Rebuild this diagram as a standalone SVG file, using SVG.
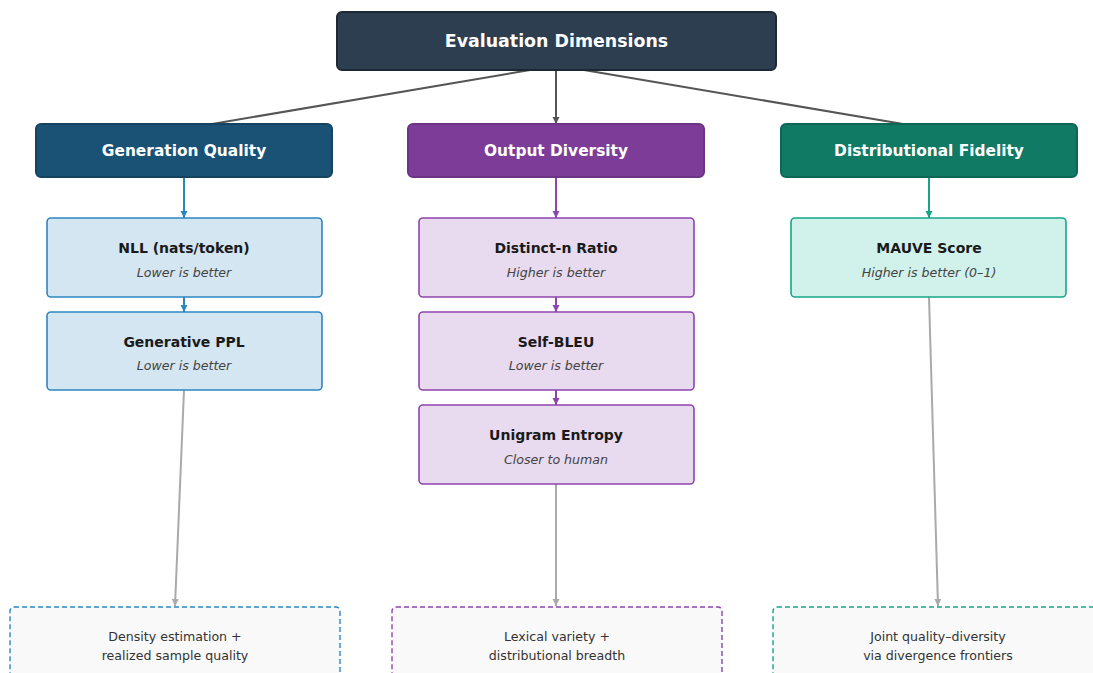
<svg xmlns="http://www.w3.org/2000/svg" width="1093" height="673" viewBox="0 0 1093 673">
<style>
text{font-family:"DejaVu Sans",Verdana,sans-serif;text-anchor:middle}
.hd{font-weight:bold;fill:#fff;font-size:15.4px}
.t{font-weight:bold;fill:#1a1a1a;font-size:14px}
.s{font-style:italic;fill:#444;font-size:12.6px}
.n{fill:#333;font-size:12.6px}
.mb{fill:#d4e6f1;stroke:#2e86c1;stroke-width:1.6}
.mp{fill:#e8daef;stroke:#8e44ad;stroke-width:1.6}
.mg{fill:#d1f2eb;stroke:#17a589;stroke-width:1.6}
.nb{fill:#f9f9f9;stroke-width:1.4;stroke-dasharray:5,3}
</style>
<defs>
<marker id="aD" markerWidth="8" markerHeight="8" refX="7" refY="4" orient="auto" markerUnits="userSpaceOnUse"><path d="M0,0.5 L7,4 L0,7.5 Z" fill="#555"/></marker>
<marker id="aB" markerWidth="8" markerHeight="8" refX="7" refY="4" orient="auto" markerUnits="userSpaceOnUse"><path d="M0,0.5 L7,4 L0,7.5 Z" fill="#2e86c1"/></marker>
<marker id="aP" markerWidth="8" markerHeight="8" refX="7" refY="4" orient="auto" markerUnits="userSpaceOnUse"><path d="M0,0.5 L7,4 L0,7.5 Z" fill="#8e44ad"/></marker>
<marker id="aG" markerWidth="8" markerHeight="8" refX="7" refY="4" orient="auto" markerUnits="userSpaceOnUse"><path d="M0,0.5 L7,4 L0,7.5 Z" fill="#17a589"/></marker>
<marker id="aY" markerWidth="8" markerHeight="8" refX="7" refY="4" orient="auto" markerUnits="userSpaceOnUse"><path d="M0,0.5 L7,4 L0,7.5 Z" fill="#aaa"/></marker>
</defs>
<rect width="1093" height="673" fill="#fff"/>
<g id="connectors" fill="none">
<line x1="530" y1="70" x2="212" y2="124" stroke="#555" stroke-width="2"/>
<line x1="556" y1="70" x2="556" y2="124" stroke="#555" stroke-width="2" marker-end="url(#aD)"/>
<line x1="584" y1="70" x2="903" y2="124" stroke="#555" stroke-width="2"/>
<line x1="184" y1="177" x2="184" y2="218" stroke="#2e86c1" stroke-width="2" marker-end="url(#aB)"/>
<line x1="184" y1="297" x2="184" y2="312" stroke="#2e86c1" stroke-width="2" marker-end="url(#aB)"/>
<line x1="556" y1="177" x2="556" y2="218" stroke="#8e44ad" stroke-width="2" marker-end="url(#aP)"/>
<line x1="556" y1="297" x2="556" y2="312" stroke="#8e44ad" stroke-width="2" marker-end="url(#aP)"/>
<line x1="556" y1="390" x2="556" y2="405" stroke="#8e44ad" stroke-width="2" marker-end="url(#aP)"/>
<line x1="929" y1="177" x2="929" y2="218" stroke="#17a589" stroke-width="2" marker-end="url(#aG)"/>
<line x1="184" y1="390" x2="175" y2="606" stroke="#aaa" stroke-width="2" marker-end="url(#aY)"/>
<line x1="556" y1="484" x2="556" y2="606" stroke="#aaa" stroke-width="2" marker-end="url(#aY)"/>
<line x1="929" y1="297" x2="938" y2="606" stroke="#aaa" stroke-width="2" marker-end="url(#aY)"/>
</g>
<g id="root"><rect x="337" y="12" width="439" height="58" rx="5" fill="#2c3e50" stroke="#1c2833" stroke-width="2"/><text x="556.5" y="47" class="hd" style="font-size:17.4px">Evaluation Dimensions</text></g>
<g id="cat-quality"><rect x="36" y="124" width="296" height="53" rx="5" fill="#1a5276" stroke="#154360" stroke-width="2"/><text x="184" y="155.5" class="hd">Generation Quality</text></g>
<g id="cat-diversity"><rect x="408" y="124" width="296" height="53" rx="5" fill="#7d3c98" stroke="#6c3483" stroke-width="2"/><text x="556" y="155.5" class="hd">Output Diversity</text></g>
<g id="cat-fidelity"><rect x="781" y="124" width="296" height="53" rx="5" fill="#117a65" stroke="#0e6655" stroke-width="2"/><text x="929" y="155.5" class="hd">Distributional Fidelity</text></g>
<g id="m-nll"><rect x="47" y="218" width="275" height="79" rx="4" class="mb"/><text x="184" y="253" class="t">NLL (nats/token)</text><text x="184" y="277" class="s">Lower is better</text></g>
<g id="m-ppl"><rect x="47" y="312" width="275" height="78" rx="4" class="mb"/><text x="184" y="347" class="t">Generative PPL</text><text x="184" y="370" class="s">Lower is better</text></g>
<g id="m-distinct"><rect x="419" y="218" width="275" height="79" rx="4" class="mp"/><text x="556" y="253" class="t">Distinct-n Ratio</text><text x="556" y="277" class="s">Higher is better</text></g>
<g id="m-selfbleu"><rect x="419" y="312" width="275" height="78" rx="4" class="mp"/><text x="556" y="347" class="t">Self-BLEU</text><text x="556" y="370" class="s">Lower is better</text></g>
<g id="m-entropy"><rect x="419" y="405" width="275" height="79" rx="4" class="mp"/><text x="556" y="440" class="t">Unigram Entropy</text><text x="556" y="464" class="s">Closer to human</text></g>
<g id="m-mauve"><rect x="791" y="218" width="275" height="79" rx="4" class="mg"/><text x="929" y="253" class="t">MAUVE Score</text><text x="929" y="277" class="s">Higher is better (0–1)</text></g>
<g id="n-quality"><rect x="10" y="607" width="330" height="90" rx="4" class="nb" stroke="#2e86c1"/><text x="175" y="641" class="n">Density estimation +</text><text x="175" y="660" class="n">realized sample quality</text></g>
<g id="n-diversity"><rect x="392" y="607" width="330" height="90" rx="4" class="nb" stroke="#8e44ad"/><text x="557" y="641" class="n">Lexical variety +</text><text x="557" y="660" class="n">distributional breadth</text></g>
<g id="n-fidelity"><rect x="773" y="607" width="330" height="90" rx="4" class="nb" stroke="#17a589"/><text x="938" y="641" class="n">Joint quality–diversity</text><text x="938" y="660" class="n">via divergence frontiers</text></g>
</svg>
